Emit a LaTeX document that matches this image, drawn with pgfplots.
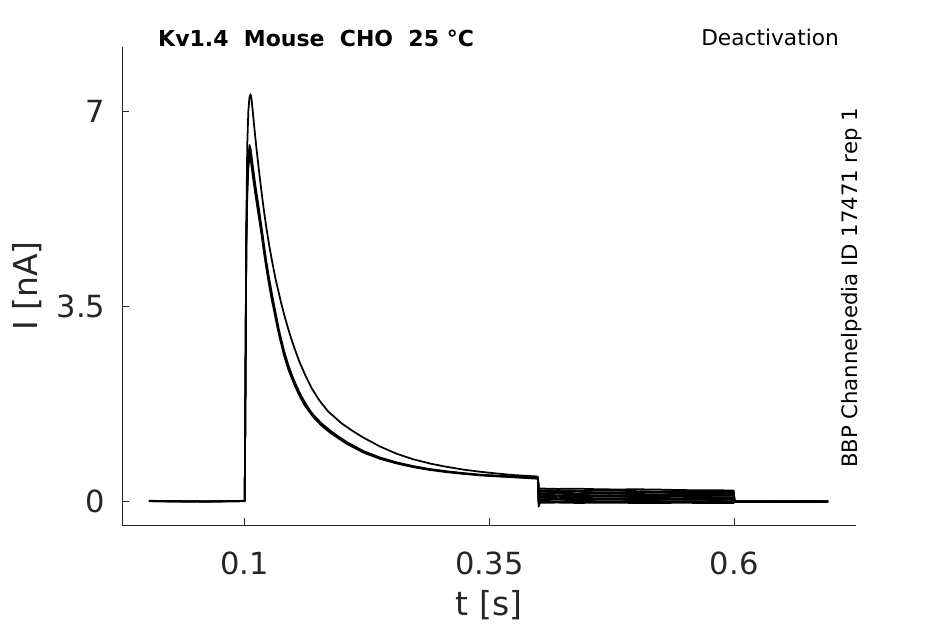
\documentclass[border=0pt]{standalone}
\usepackage{fontspec}
\setmainfont{DejaVu Sans}
\usepackage{pgfplots}
\usepackage{pgfplotstable}
\pgfplotsset{compat=1.18}
\definecolor{axgray}{HTML}{262626}

\pgfplotstableread{
t I
0.0020 0.000
0.0300 -0.008
0.0600 -0.010
0.0999 0.000
0.1008 2.60
0.1015 4.90
0.1025 6.40
0.1036 7.00
0.1047 7.24
0.1058 7.30
0.1068 7.22
0.1080 7.02
0.1095 6.74
0.1116 6.38
0.1140 6.00
0.1160 5.70
0.1190 5.28
0.1218 4.93
0.1250 4.58
0.1279 4.30
0.1310 4.02
0.1341 3.78
0.1375 3.53
0.1406 3.32
0.1440 3.11
0.1470 2.94
0.1510 2.73
0.1560 2.49
0.1620 2.25
0.1685 2.02
0.1760 1.81
0.1850 1.61
0.1992 1.39
0.2100 1.26
0.2200 1.15
0.2380 0.98
0.2550 0.85
0.2720 0.75
0.2900 0.67
0.3060 0.615
0.3230 0.565
0.3400 0.527
0.3570 0.495
0.3740 0.467
0.3995 0.44
}\tracO

\pgfplotstableread{
t a b c
0.0020 -0.005 0.005 0.000
0.0300 0.000 -0.005 -0.010
0.0600 -0.008 -0.012 -0.004
0.0999 0.005 0.000 -0.005
0.1008 2.46 2.50 2.54
0.1015 4.53 4.60 4.67
0.1025 5.52 5.60 5.68
0.1035 5.96 6.05 6.14
0.1048 6.21 6.30 6.39
0.1060 6.13 6.22 6.31
0.1082 5.83 5.92 6.01
0.1110 5.48 5.56 5.64
0.1143 5.10 5.18 5.26
0.1170 4.79 4.86 4.93
0.1194 4.48 4.55 4.62
0.1220 4.18 4.24 4.30
0.1245 3.91 3.97 4.03
0.1275 3.62 3.68 3.74
0.1303 3.38 3.43 3.48
0.1330 3.14 3.19 3.24
0.1358 2.92 2.96 3.00
0.1400 2.62 2.66 2.70
0.1443 2.37 2.41 2.45
0.1490 2.16 2.19 2.22
0.1529 2.00 2.03 2.06
0.1570 1.85 1.88 1.91
0.1614 1.71 1.74 1.77
0.1660 1.60 1.62 1.64
0.1699 1.51 1.53 1.55
0.1780 1.36 1.38 1.40
0.1869 1.23 1.25 1.27
0.1950 1.133 1.15 1.167
0.2040 1.029 1.045 1.061
0.2210 0.872 0.885 0.898
0.2380 0.758 0.770 0.782
0.2550 0.675 0.685 0.695
0.2720 0.609 0.618 0.627
0.2890 0.558 0.566 0.574
0.3060 0.519 0.527 0.535
0.3230 0.488 0.495 0.502
0.3400 0.461 0.468 0.475
0.3570 0.443 0.450 0.457
0.3740 0.427 0.434 0.441
0.3995 0.40 0.41 0.42
}\tracB

\pgfplotstableread{
t T1 T2 T3 T4 T5 T6 T7 T8 T9 T10
0.3995 0.44 0.40 0.41 0.42 0.40 0.41 0.42 0.40 0.41 0.42
0.4003 0.19 0.16 0.13 0.10 0.07 0.03 0.00 -0.04 -0.07 -0.10
0.4015 0.225 0.195 0.168 0.140 0.112 0.085 0.058 0.030 0.002 -0.030
0.4200 0.218 0.192 0.160 0.138 0.105 0.084 0.052 0.031 -0.004 -0.028
0.4400 0.222 0.186 0.166 0.132 0.110 0.078 0.057 0.024 0.003 -0.034
0.4600 0.212 0.190 0.158 0.136 0.104 0.083 0.051 0.029 -0.002 -0.031
0.4800 0.208 0.186 0.155 0.131 0.101 0.080 0.050 0.027 -0.003 -0.030
0.5000 0.211 0.178 0.159 0.126 0.106 0.075 0.054 0.022 0.001 -0.035
0.5200 0.207 0.172 0.154 0.122 0.102 0.072 0.051 0.021 -0.001 -0.036
0.5400 0.199 0.176 0.147 0.125 0.097 0.076 0.047 0.025 -0.004 -0.032
0.5600 0.194 0.170 0.143 0.121 0.094 0.073 0.045 0.023 -0.005 -0.033
0.5800 0.193 0.166 0.145 0.118 0.096 0.070 0.047 0.020 -0.003 -0.035
0.5995 0.190 0.165 0.142 0.118 0.094 0.070 0.046 0.022 -0.004 -0.035
0.6005 -0.010 -0.006 -0.012 -0.008 -0.014 -0.010 -0.007 -0.012 -0.009 -0.011
0.6500 -0.012 -0.010 -0.008 -0.011 -0.009 -0.013 -0.010 -0.009 -0.012 -0.010
0.6960 -0.008 -0.010 -0.012 -0.009 -0.011 -0.008 -0.010 -0.011 -0.009 -0.010
}\tracT

\pgfplotsset{tr/.style={black, line width=1.75bp, mark=none, line join=round}}

\begin{document}
\begin{tikzpicture}
\useasboundingbox (0,0) rectangle (945bp,624bp);
\begin{axis}[
  at={(122bp,99bp)}, anchor=south west,
  scale only axis, width=734bp, height=478bp,
  xmin=-0.0255, xmax=0.7245, ymin=-0.43, ymax=8.15,
  axis x line*=bottom, axis y line*=left,
  axis line style={axgray, line width=0.8bp},
  tick align=inside, major tick length=7bp,
  tick style={axgray, line width=0.8bp},
  xtick={0.1,0.35,0.6}, xticklabels={0.1,0.35,0.6},
  ytick={0,3.5,7}, yticklabels={0,3.5,7},
  /pgf/number format/assume math mode=true,
  ticklabel style={font=\fontsize{30.5bp}{36bp}\selectfont, text=axgray, inner sep=0pt},
  xticklabel style={anchor=north, yshift=-27bp},
  yticklabel style={anchor=east, xshift=-16.5bp},
  xlabel={t [s]}, ylabel={I [nA]},
  label style={font=\fontsize{33bp}{40bp}\selectfont, text=axgray, inner sep=0pt},
  xlabel style={at={(axis description cs:0.5,-0.136)}, anchor=north},
  ylabel style={at={(axis description cs:-0.109,0.5)}, anchor=south},
]
\addplot[tr] table[x=t,y=I]{\tracO};
\addplot[tr] table[x=t,y=a]{\tracB};
\addplot[tr] table[x=t,y=b]{\tracB};
\addplot[tr] table[x=t,y=c]{\tracB};
\pgfplotsinvokeforeach{1,...,10}{\addplot[tr] table[x=t,y=T#1]{\tracT};}
\end{axis}
\node[anchor=base west, inner sep=0pt, font=\bfseries\fontsize{22bp}{26bp}\selectfont] at (158bp,577.3bp) {Kv1.4~~Mouse~~CHO~~25~°C};
\node[anchor=base east, inner sep=0pt, font=\fontsize{21.7bp}{26bp}\selectfont] at (839bp,578bp) {Deactivation};
\node[anchor=base, rotate=90, inner sep=0pt, font=\fontsize{21.2bp}{26bp}\selectfont] at (857bp,336bp) {BBP Channelpedia ID 17471 rep 1};
\end{tikzpicture}
\end{document}
